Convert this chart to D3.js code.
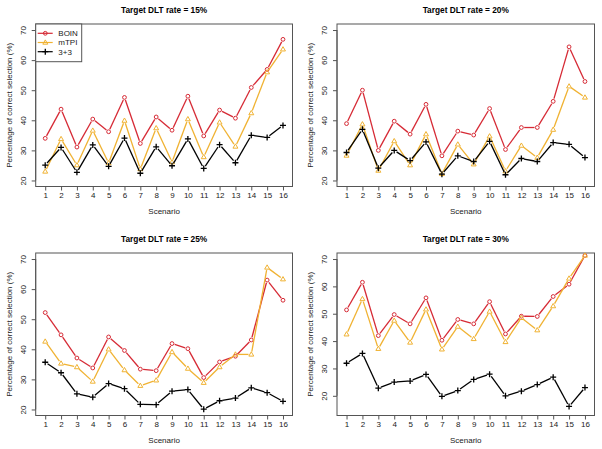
<!DOCTYPE html>
<html><head><meta charset="utf-8">
<script src="https://cdn.jsdelivr.net/npm/d3@7"></script>
<style>
html,body{margin:0;padding:0;background:#fff;}
text{font-family:"Liberation Sans",Arial,Helvetica,sans-serif;}
</style></head>
<body>
<svg id="c" width="602" height="449"></svg>
<script>
// ---- data ----
const scenarios = d3.range(1, 17);
const yTicks = [20, 30, 40, 50, 60, 70];
const seriesNames = ["BOIN", "mTPI", "3+3"];
const panelTitles = ["Target DLT rate = 15%", "Target DLT rate = 20%", "Target DLT rate = 25%", "Target DLT rate = 30%"];
const panelYLim = [[20, 70], [20, 70], [20, 70], [15, 70]];

const boin15 = [34.0, 43.7, 31.1, 40.4, 36.2, 47.6, 32.3, 41.1, 36.7, 48.0, 34.8, 43.4, 40.7, 50.9, 56.9, 66.9];
const mtpi15 = [23.0, 33.8, 25.1, 36.6, 25.8, 39.9, 23.8, 37.4, 26.1, 40.4, 27.8, 39.3, 31.3, 42.4, 56.0, 63.6];
const tpt15  = [25.1, 31.0, 22.7, 31.8, 24.7, 34.1, 22.4, 31.2, 24.9, 33.8, 24.0, 31.9, 25.9, 35.0, 34.3, 38.3];

const boin20 = [38.9, 50.0, 30.0, 39.7, 35.4, 45.3, 28.2, 36.4, 35.1, 43.9, 30.3, 37.6, 37.6, 46.3, 64.4, 52.9];
const mtpi20 = [28.3, 38.7, 23.3, 33.1, 25.1, 35.4, 22.2, 32.0, 25.4, 34.7, 23.1, 31.6, 27.6, 36.9, 51.3, 47.6];
const tpt20  = [29.3, 37.0, 24.1, 30.0, 26.6, 32.8, 22.1, 28.2, 26.3, 33.0, 21.9, 27.3, 26.3, 32.6, 32.0, 27.6];

const boin25 = [52.2, 44.8, 37.1, 33.8, 44.1, 39.6, 33.4, 32.9, 41.9, 40.2, 30.6, 35.8, 37.7, 43.1, 63.0, 56.3];
const mtpi25 = [42.6, 35.3, 34.1, 29.3, 40.0, 33.1, 27.9, 29.7, 39.1, 33.6, 28.9, 34.1, 38.3, 38.3, 67.2, 63.3];
const tpt25  = [35.7, 32.2, 25.2, 24.1, 28.6, 26.9, 21.7, 21.6, 26.1, 26.6, 20.1, 22.9, 23.8, 27.2, 25.6, 22.7];

const boin30 = [51.4, 61.5, 42.0, 49.7, 46.3, 55.8, 40.3, 47.9, 46.3, 54.4, 42.6, 49.1, 49.0, 56.3, 60.8, 71.3];
const mtpi30 = [42.5, 55.4, 37.2, 47.5, 39.5, 51.6, 37.0, 45.3, 40.8, 50.8, 39.7, 48.5, 44.0, 52.8, 62.9, 71.3];
const tpt30  = [31.9, 35.5, 22.8, 25.0, 25.4, 27.8, 19.8, 21.9, 26.0, 27.9, 20.0, 21.7, 24.1, 26.8, 16.1, 23.0];

const panelData = [[boin15, mtpi15, tpt15], [boin20, mtpi20, tpt20], [boin25, mtpi25, tpt25], [boin30, mtpi30, tpt30]];

// ---- styles / layout ----
const colors = ["#D62A35", "#F0B232", "#000000"];
const boxes = [
  {x0: 35.7, y0: 24, x1: 292.5, y1: 186.5},
  {x0: 337, y0: 24, x1: 594.5, y1: 186.5},
  {x0: 35.7, y0: 253, x1: 292.5, y1: 415.5},
  {x0: 337, y0: 253, x1: 594.5, y1: 415.5}
];

const svg = d3.select("#c");

function ext(lim) { const d = (lim[1] - lim[0]) * 0.04; return [lim[0] - d, lim[1] + d]; }

function marker(g, type, x, y, col) {
  if (type === 0) {
    g.append("circle").attr("cx", x).attr("cy", y).attr("r", 1.9)
      .attr("fill", "none").attr("stroke", col).attr("stroke-width", 1);
  } else if (type === 1) {
    const s = 2.6;
    g.append("path").attr("d", `M${x},${y - s}L${x + s * 0.95},${y + s * 0.65}L${x - s * 0.95},${y + s * 0.65}Z`)
      .attr("fill", "none").attr("stroke", col).attr("stroke-width", 1);
  } else {
    const s = 3.0;
    g.append("path").attr("d", `M${x - s},${y}H${x + s}M${x},${y - s}V${y + s}`)
      .attr("fill", "none").attr("stroke", col).attr("stroke-width", 1.3);
  }
}

panelData.forEach((series, p) => {
  const b = boxes[p];
  const x = d3.scaleLinear().domain(ext([1, 16])).range([b.x0, b.x1]);
  const y = d3.scaleLinear().domain(ext(panelYLim[p])).range([b.y1, b.y0]);
  const g = svg.append("g");

  // box
  g.append("rect").attr("x", b.x0).attr("y", b.y0).attr("width", b.x1 - b.x0).attr("height", b.y1 - b.y0)
    .attr("fill", "none").attr("stroke", "#555").attr("stroke-width", 1);

  // x axis
  const xa = g.append("g").attr("transform", `translate(0,${b.y1})`)
    .call(d3.axisBottom(x).tickValues(scenarios).tickSize(4).tickPadding(1.5).tickFormat(d3.format("d")));
  xa.select(".domain").attr("d", `M${x(1)},0H${x(16)}`).attr("stroke", "#555");
  xa.selectAll(".tick line").attr("stroke", "#555");
  xa.selectAll("text").attr("font-size", 8).attr("fill", "#222")
    .attr("font-family", '"Liberation Sans",Arial,sans-serif');

  // y axis
  const ya = g.append("g").attr("transform", `translate(${b.x0},0)`)
    .call(d3.axisLeft(y).tickValues(yTicks).tickSize(4).tickFormat(d3.format("d")));
  ya.select(".domain").attr("d", `M0,${y(yTicks[yTicks.length - 1])}V${y(yTicks[0])}`).attr("stroke", "#555");
  ya.selectAll(".tick line").attr("stroke", "#555");
  ya.selectAll(".tick text").attr("x", null).attr("dy", null)
    .attr("text-anchor", "middle").attr("transform", "translate(-12.5,0) rotate(-90)")
    .attr("dy", "0.35em").attr("font-size", 8).attr("fill", "#222")
    .attr("font-family", '"Liberation Sans",Arial,sans-serif');

  // titles
  const cx = (b.x0 + b.x1) / 2, cy = (b.y0 + b.y1) / 2;
  g.append("text").attr("x", cx).attr("y", b.y0 - 11.5).attr("text-anchor", "middle")
    .attr("font-size", 8.3).attr("font-weight", "bold").attr("fill", "#000").text(panelTitles[p]);
  g.append("text").attr("x", cx).attr("y", b.y1 + 27.5).attr("text-anchor", "middle")
    .attr("font-size", 8).attr("fill", "#222").text("Scenario");
  g.append("text").attr("transform", `translate(${b.x0 - 26.5},${cy}) rotate(-90)`).attr("text-anchor", "middle")
    .attr("dy", "0.35em").attr("font-size", 8).attr("fill", "#222").text("Percentage of correct selection (%)");

  // series (type "b": lines with gaps around points)
  const gap = 2.8;
  series.forEach((vals, s) => {
    const pts = vals.map((v, i) => [x(scenarios[i]), y(v)]);
    const sg = g.append("g");
    for (let i = 0; i < pts.length - 1; i++) {
      const [xa1, ya1] = pts[i], [xb, yb] = pts[i + 1];
      const dx = xb - xa1, dy = yb - ya1, L = Math.hypot(dx, dy);
      if (L <= 2 * gap) continue;
      const ux = dx / L, uy = dy / L;
      sg.append("line").attr("x1", xa1 + ux * gap).attr("y1", ya1 + uy * gap)
        .attr("x2", xb - ux * gap).attr("y2", yb - uy * gap)
        .attr("stroke", colors[s]).attr("stroke-width", 1.3);
    }
    pts.forEach(([px, py]) => marker(sg, s, px, py, colors[s]));
  });

  // legend in first panel
  if (p === 0) {
    const lg = g.append("g");
    lg.append("rect").attr("x", b.x0).attr("y", b.y0).attr("width", 46).attr("height", 37.7)
      .attr("fill", "#fff").attr("stroke", "#555").attr("stroke-width", 1);
    seriesNames.forEach((name, s) => {
      const ly = b.y0 + 9.3 + s * 9.2;
      lg.append("line").attr("x1", b.x0 + 2).attr("x2", b.x0 + 17).attr("y1", ly).attr("y2", ly)
        .attr("stroke", colors[s]).attr("stroke-width", 1.2);
      marker(lg, s, b.x0 + 9.6, ly, colors[s]);
      lg.append("text").attr("x", b.x0 + 22.6).attr("y", ly).attr("dy", "0.35em")
        .attr("font-size", 8).attr("fill", "#222").text(name);
    });
  }
});
</script>
</body></html>
